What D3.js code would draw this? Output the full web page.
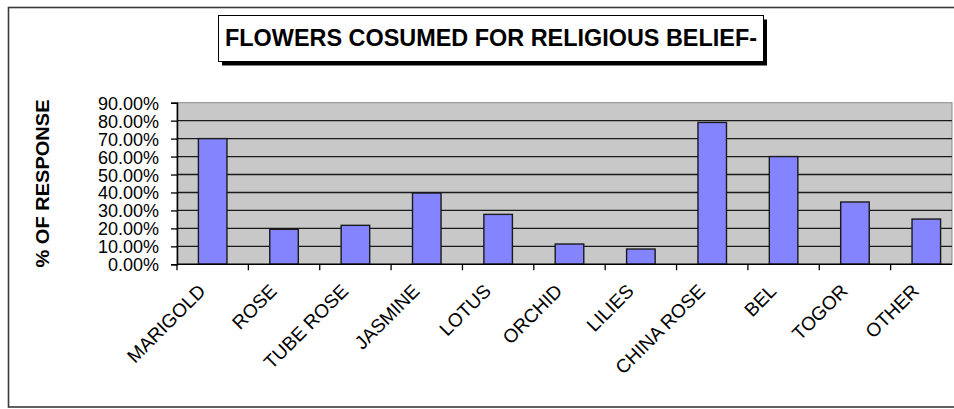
<!DOCTYPE html>
<html>
<head>
<meta charset="utf-8">
<script src="https://cdnjs.cloudflare.com/ajax/libs/d3/7.8.5/d3.min.js"></script>
<style>
  body { margin: 0; background: #fff; }
  text { font-family: Arial, "Liberation Sans", sans-serif; }
</style>
</head>
<body>
<svg id="chart" width="954" height="409"></svg>
<script>
// data
var categories = ["MARIGOLD", "ROSE", "TUBE ROSE", "JASMINE", "LOTUS", "ORCHID", "LILIES", "CHINA ROSE", "BEL", "TOGOR", "OTHER"];
var responses = [0.70, 0.195, 0.217, 0.397, 0.278, 0.113, 0.085, 0.79, 0.60, 0.347, 0.252];
var yTicks = [0, 0.1, 0.2, 0.3, 0.4, 0.5, 0.6, 0.7, 0.8, 0.9];
var titleText = "FLOWERS COSUMED FOR RELIGIOUS BELIEF-";
var yTitle = "% OF RESPONSE";

var svg = d3.select("#chart"),
    width = +svg.attr("width"),
    height = +svg.attr("height");

// plot area runs past the right edge of the picture (cropped)
var plot = { left: 177, right: 962, top: 102.7, bottom: 264.3 },
    visibleRight = 952;

// outer frame
svg.append("rect")
    .attr("x", 8.5).attr("y", 7.5)
    .attr("width", 960).attr("height", 399.5)
    .attr("fill", "#fff")
    .attr("stroke", "#3a3a3a")
    .attr("stroke-width", 1.6);

// title box with shadow
svg.append("rect")
    .attr("x", 222).attr("y", 19.5)
    .attr("width", 545).attr("height", 46)
    .attr("fill", "#000");
svg.append("rect")
    .attr("x", 218.5).attr("y", 15.5)
    .attr("width", 545).attr("height", 46)
    .attr("fill", "#fff")
    .attr("stroke", "#000")
    .attr("stroke-width", 1);
svg.append("text")
    .attr("x", 491).attr("y", 45.7)
    .attr("text-anchor", "middle")
    .attr("font-size", 23)
    .attr("font-weight", "bold")
    .attr("textLength", 532)
    .attr("lengthAdjust", "spacingAndGlyphs")
    .text(titleText);

var x = d3.scaleBand()
    .domain(categories)
    .range([plot.left, plot.right])
    .padding(0);

var y = d3.scaleLinear()
    .domain([0, 0.9])
    .range([plot.bottom, plot.top]);

// plot background
svg.append("rect")
    .attr("x", plot.left).attr("y", plot.top)
    .attr("width", visibleRight - plot.left)
    .attr("height", plot.bottom - plot.top)
    .attr("fill", "#c8c8c8")
    .attr("stroke", "#8a8a8a")
    .attr("stroke-width", 1);

// gridlines
svg.append("g")
    .selectAll("line")
    .data(yTicks.slice(1, -1))
    .enter().append("line")
    .attr("x1", plot.left).attr("x2", visibleRight)
    .attr("y1", function (d) { return y(d); })
    .attr("y2", function (d) { return y(d); })
    .attr("stroke", "#1a1a1a")
    .attr("stroke-width", 1.3);

// bars
svg.append("g")
    .selectAll("rect")
    .data(responses)
    .enter().append("rect")
    .attr("x", function (d, i) { return x(categories[i]) + x.bandwidth() * 0.3; })
    .attr("y", function (d) { return y(d); })
    .attr("width", x.bandwidth() * 0.4)
    .attr("height", function (d) { return y(0) - y(d); })
    .attr("fill", "#8484ff")
    .attr("stroke", "#1a1a1a")
    .attr("stroke-width", 1.4);

// y axis
var yAxis = svg.append("g")
    .attr("transform", "translate(" + plot.left + ",0)")
    .call(d3.axisLeft(y).tickValues(yTicks).tickSize(6).tickPadding(12)
        .tickFormat(function (d) { return (d * 100).toFixed(2) + "%"; }));
yAxis.select(".domain").attr("stroke", "#000").attr("stroke-width", 1.5);
yAxis.selectAll(".tick line").attr("stroke", "#000").attr("stroke-width", 1.3);
yAxis.selectAll(".tick text")
    .attr("font-size", 18)
    .attr("font-family", "Arial, 'Liberation Sans', sans-serif")
    .attr("fill", "#000")
    .attr("dy", "0.36em");

// x axis: ticks at category boundaries
var bounds = categories.map(function (c) { return x(c); });
svg.append("line")
    .attr("x1", plot.left).attr("x2", visibleRight)
    .attr("y1", y(0)).attr("y2", y(0))
    .attr("stroke", "#000").attr("stroke-width", 1.5);
svg.append("g")
    .selectAll("line")
    .data(bounds)
    .enter().append("line")
    .attr("x1", function (d) { return d; })
    .attr("x2", function (d) { return d; })
    .attr("y1", y(0)).attr("y2", y(0) + 6)
    .attr("stroke", "#000").attr("stroke-width", 1.3);

svg.append("g")
    .selectAll("text")
    .data(categories)
    .enter().append("text")
    .attr("text-anchor", "end")
    .attr("font-size", 19)
    .attr("transform", function (d) {
        return "translate(" + (x(d) + x.bandwidth() / 2 - 6) + "," + (y(0) + 28) + ")rotate(-45)";
    })
    .text(function (d) { return d; });

// y axis title
svg.append("text")
    .attr("transform", "translate(49," + ((plot.top + plot.bottom) / 2) + ")rotate(-90)")
    .attr("text-anchor", "middle")
    .attr("font-size", 19)
    .attr("font-weight", "bold")
    .attr("textLength", 168)
    .attr("lengthAdjust", "spacingAndGlyphs")
    .text(yTitle);
</script>
</body>
</html>
